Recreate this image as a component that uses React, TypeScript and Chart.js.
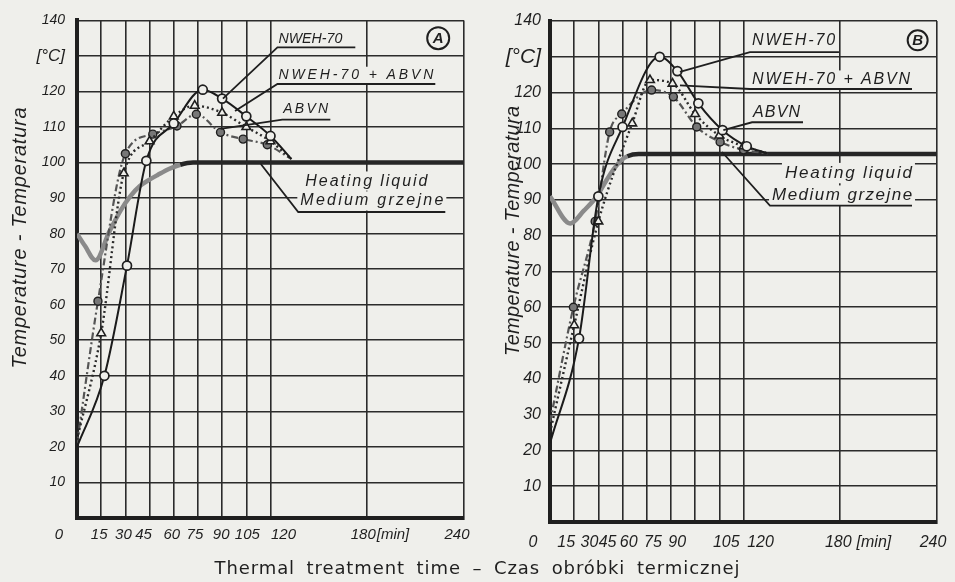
import React, { useEffect, useRef } from 'react';
import { Chart, registerables } from 'chart.js';

Chart.register(...registerables);

const PAPER = '#efefeb';
const INK = '#1f1f1f';
const TICKFONT = "'Liberation Sans', 'DejaVu Sans', sans-serif";
const SANS = "'Liberation Sans', 'DejaVu Sans', sans-serif";

// ---------- axes / texts ----------
const xTickValues = [0, 15, 30, 45, 60, 75, 90, 105, 120, 180, 240];
const xTickLabels = ['0', '15', '30', '45', '60', '75', '90', '105', '120', '180', '240'];
const xUnit = '[min]';
const yTickValues = [0, 10, 20, 30, 40, 50, 60, 70, 80, 90, 100, 110, 120, 130, 140];
const yTickLabels = ['', '10', '20', '30', '40', '50', '60', '70', '80', '90', '100', '110', '120', '[°C]', '140'];
const yTitle = 'Temperature - Temperatura';
const xTitle = 'Thermal treatment time – Czas obróbki termicznej';
const seriesNames = ['NWEH-70', 'NWEH-70 + ABVN', 'ABVN'];
const heatingNames = ['Heating liquid', 'Medium grzejne'];

// ---------- panel A data (time [min], temperature [°C]) ----------
const timeA_NWEH = [0, 17, 31, 43, 60, 78, 90, 105, 120, 133];
const tempA_NWEH = [20, 40, 71, 100.5, 111, 120.5, 118, 113, 107.5, 101];
const timeA_MIX = [0, 15, 29, 45, 60, 73, 90, 105, 120, 133];
const tempA_MIX = [22, 52, 97, 106, 113, 116, 114, 110, 106, 101];
const timeA_ABVN = [0, 13, 30, 47, 62, 74, 89, 103, 118, 133];
const tempA_ABVN = [21, 61, 102.5, 108, 110.3, 113.6, 108.5, 106.6, 105, 101];
const timeA_HEAT = [0, 5, 11.5, 20, 27, 33, 39, 45, 50, 57, 64, 72, 80, 240];
const tempA_HEAT = [80, 76.5, 72.5, 80.5, 86.5, 90.5, 93.4, 95.2, 96.5, 98.2, 99.4, 100, 100, 100];

// ---------- panel B data ----------
const timeB_NWEH = [0, 18, 30, 45, 68, 79, 92, 107, 122, 135];
const tempB_NWEH = [22, 51.3, 91, 110.4, 130, 126, 117, 109.5, 105, 103];
const timeB_MIX = [0, 15, 30, 51, 62, 76, 90, 105, 120, 135];
const tempB_MIX = [25, 55, 84, 111.4, 123.5, 122.5, 114, 108, 105, 103];
const timeB_ABVN = [0, 14.5, 28, 37, 44.5, 63, 76.5, 91, 105.5, 120, 135];
const tempB_ABVN = [28, 60, 84, 109, 114, 120.7, 118.8, 110.4, 106.2, 104, 103];
const timeB_HEAT = [0, 12.5, 21, 29, 35, 39, 44, 48, 55, 240];
const tempB_HEAT = [91, 83.4, 87, 91, 95.5, 98.3, 101, 102.2, 102.8, 102.8];

const pts = (t: number[], T: number[]) => t.map((v, i) => ({ x: v, y: T[i] }));

type Lbl = {
  lines: { text: string; x: number; y: number; w: number; f: number }[];
  ul: { x1: number; x2: number; y: number };
  to: { x: number; y: number };
};

const panels = [
  {
    letter: 'A',
    left: 0,
    width: 477,
    area: { left: 77, right: 464, top: 19, bottom: 518 },
    series: [pts(timeA_NWEH, tempA_NWEH), pts(timeA_MIX, tempA_MIX), pts(timeA_ABVN, tempA_ABVN)],
    heat: pts(timeA_HEAT, tempA_HEAT),
    yFont: 14, cFont: 17, yPad: 12,
    xFont: 15, xDy: 17, xDx: [-18, -2, -2, -6, -2, -3, -1, 1, 13, -4, -7], unitGap: 1,
    labels: [
      { lines: [{ text: seriesNames[0], x: 124.9, y: 134.7, w: 64, f: 14.5 }], ul: { x1: 124.3, x2: 172.6, y: 132.4 }, to: { x: 90.5, y: 118 } },
      { lines: [{ text: seriesNames[1], x: 124.9, y: 124.6, w: 155, f: 14 }], ul: { x1: 124.3, x2: 222.2, y: 122.1 }, to: { x: 98, y: 114.5 } },
      { lines: [{ text: seriesNames[2], x: 127.9, y: 115, w: 45, f: 14 }], ul: { x1: 127.3, x2: 157.1, y: 112.1 }, to: { x: 89, y: 109.5 } },
      {
        lines: [
          { text: heatingNames[0], x: 141.6, y: 94.8, w: 122, f: 16 },
          { text: heatingNames[1], x: 138.5, y: 89.2, w: 143, f: 16 },
        ],
        ul: { x1: 137.2, x2: 228.4, y: 86.1 },
        to: { x: 114, y: 99.6 },
      },
    ] as Lbl[],
    circle: { x: 224, y: 135, r: 11, font: 15 },
    title: { cx: 20, cy: 238, w: 261, font: 20 },
  },
  {
    letter: 'B',
    left: 477,
    width: 478,
    area: { left: 73, right: 460, top: 21, bottom: 522 },
    series: [pts(timeB_NWEH, tempB_NWEH), pts(timeB_MIX, tempB_MIX), pts(timeB_ABVN, tempB_ABVN)],
    heat: pts(timeB_HEAT, tempB_HEAT),
    yFont: 16, cFont: 21, yPad: 9,
    xFont: 16, xDy: 21, xDx: [-17, -8, -9, -15, -18, -18, -18, 7, 17, -2, -4], unitGap: 5,
    labels: [
      { lines: [{ text: seriesNames[0], x: 125.3, y: 134.4, w: 83, f: 16 }], ul: { x1: 124, x2: 179.2, y: 131.3 }, to: { x: 80.6, y: 125.8 } },
      { lines: [{ text: seriesNames[1], x: 125.3, y: 123.5, w: 158, f: 16 }], ul: { x1: 124, x2: 224.5, y: 121 }, to: { x: 80.6, y: 122 } },
      { lines: [{ text: seriesNames[2], x: 125.9, y: 114.4, w: 47, f: 16 }], ul: { x1: 125.3, x2: 156.9, y: 111.7 }, to: { x: 107.5, y: 109.5 } },
      {
        lines: [
          { text: heatingNames[0], x: 145.7, y: 97.5, w: 127, f: 17 },
          { text: heatingNames[1], x: 137.7, y: 91.2, w: 140, f: 17 },
        ],
        ul: { x1: 136.4, x2: 224.5, y: 88.4 },
        to: { x: 106.7, y: 103.4 },
      },
    ] as Lbl[],
    circle: { x: 228, y: 134.6, r: 10, font: 15 },
    title: { cx: 36, cy: 231, w: 250, font: 20 },
  },
];

function spacedText(ctx: CanvasRenderingContext2D, text: string, left: number, y: number, width: number) {
  const c = ctx as any;
  c.letterSpacing = '0px';
  const w0 = ctx.measureText(text).width;
  const ls = text.length > 1 ? (width - w0) / (text.length - 1) : 0;
  ctx.textAlign = 'left';
  if (ls < 0) {
    ctx.save();
    ctx.translate(left, y);
    ctx.scale(width / w0, 1);
    ctx.fillText(text, 0, 0);
    ctx.restore();
    return;
  }
  c.letterSpacing = ls.toFixed(2) + 'px';
  ctx.fillText(text, left, y);
  c.letterSpacing = '0px';
}

function makeDecor(p: any) {
  return {
    id: 'decor' + p.letter,
    afterDraw(chart: any) {
      const { ctx } = chart;
      const xs = chart.scales.x;
      const ys = chart.scales.y;
      const px = (v: number) => xs.getPixelForValue(v);
      const py = (v: number) => ys.getPixelForValue(v);
      const area = chart.chartArea;
      ctx.save();
      ctx.fillStyle = INK;
      ctx.strokeStyle = INK;
      ctx.textBaseline = 'middle';

      // x tick labels
      ctx.font = `italic ${p.xFont}px ${TICKFONT}`;
      xTickValues.forEach((v, i) => {
        const cx = px(v) + p.xDx[i];
        const cy = area.bottom + p.xDy;
        ctx.textAlign = 'center';
        ctx.fillText(xTickLabels[i], cx, cy);
        if (v === 180) {
          const w = ctx.measureText(xTickLabels[i]).width;
          ctx.textAlign = 'left';
          ctx.fillText(xUnit, cx + w / 2 + p.unitGap, cy);
        }
      });

      // y title (rotated)
      ctx.save();
      ctx.translate(p.title.cx, p.title.cy);
      ctx.rotate(-Math.PI / 2);
      ctx.font = `italic ${p.title.font}px ${SANS}`;
      spacedText(ctx, yTitle, -p.title.w / 2, 0, p.title.w);
      ctx.restore();

      // curve labels
      p.labels.forEach((l: Lbl) => {
        l.lines.forEach((ln) => {
          const left = px(ln.x);
          const cy = py(ln.y);
          ctx.font = `italic ${ln.f}px ${SANS}`;
          ctx.fillStyle = PAPER;
          ctx.fillRect(left - 3, cy - ln.f * 0.6, ln.w + 6, ln.f * 1.2);
          ctx.fillStyle = INK;
          spacedText(ctx, ln.text, left, cy, ln.w);
        });
        ctx.lineWidth = 1.8;
        ctx.beginPath();
        ctx.moveTo(px(l.ul.x2), py(l.ul.y));
        ctx.lineTo(px(l.ul.x1), py(l.ul.y));
        ctx.lineTo(px(l.to.x), py(l.to.y));
        ctx.stroke();
      });

      // circled panel letter
      const ccx = px(p.circle.x);
      const ccy = py(p.circle.y);
      ctx.fillStyle = PAPER;
      ctx.beginPath();
      ctx.arc(ccx, ccy, p.circle.r, 0, Math.PI * 2);
      ctx.fill();
      ctx.lineWidth = 2;
      ctx.stroke();
      ctx.fillStyle = INK;
      ctx.font = `italic bold ${p.circle.font}px ${SANS}`;
      ctx.textAlign = 'center';
      ctx.fillText(p.letter, ccx, ccy + 1);
      ctx.restore();
    },
  };
}

function buildChart(canvas: HTMLCanvasElement, p: any) {
  const level = Math.max(...p.heat.map((d: any) => d.y));
  const markerR = (n: number, r: number) => (c: any) => (c.dataIndex === 0 || c.dataIndex === n - 1 ? 0 : r);
  return new Chart(canvas, {
    type: 'line',
    data: {
      datasets: [
        {
          label: seriesNames[0],
          data: p.series[0],
          borderColor: '#1b1b1b',
          borderWidth: 2,
          pointStyle: 'circle',
          pointRadius: markerR(p.series[0].length, 4.5),
          pointBackgroundColor: PAPER,
          pointBorderColor: INK,
          pointBorderWidth: 1.7,
          tension: 0.4,
          cubicInterpolationMode: 'monotone',
        },
        {
          label: seriesNames[1],
          data: p.series[1],
          borderColor: '#2a2a2a',
          borderWidth: 2.4,
          borderDash: [2, 3],
          pointStyle: 'triangle',
          pointRadius: markerR(p.series[1].length, 5),
          pointBackgroundColor: PAPER,
          pointBorderColor: INK,
          pointBorderWidth: 1.6,
          tension: 0.4,
          cubicInterpolationMode: 'monotone',
        },
        {
          label: seriesNames[2],
          data: p.series[2],
          borderColor: '#555555',
          borderWidth: 2.2,
          borderDash: [7, 3, 2, 3],
          pointStyle: 'circle',
          pointRadius: markerR(p.series[2].length, 4),
          pointBackgroundColor: '#777777',
          pointBorderColor: INK,
          pointBorderWidth: 1.4,
          tension: 0.4,
          cubicInterpolationMode: 'monotone',
        },
        {
          label: heatingNames[0],
          data: p.heat,
          borderColor: '#262626',
          borderWidth: 4.5,
          pointRadius: 0,
          tension: 0.4,
          cubicInterpolationMode: 'monotone',
          segment: {
            borderColor: (c: any) =>
              c.p0.parsed.y < level - 0.6 || c.p1.parsed.y < level - 0.6 ? '#8a8a8a' : '#262626',
          },
        },
      ],
    },
    options: {
      animation: false,
      responsive: false,
      maintainAspectRatio: false,
      events: [],
      layout: {
        padding: { left: 0, top: p.area.top, right: p.width - p.area.right, bottom: 0 },
      },
      plugins: { legend: { display: false }, tooltip: { enabled: false } },
      scales: {
        x: {
          type: 'linear',
          min: 0,
          max: 240,
          afterBuildTicks: (s: any) => {
            s.ticks = xTickValues.map((v) => ({ value: v }));
          },
          afterFit: (s: any) => {
            s.height = 582 - p.area.bottom;
          },
          ticks: { display: false },
          grid: { color: '#2b2b2b', lineWidth: 1.6, drawTicks: false },
          border: { display: true, color: INK, width: 4 },
        },
        y: {
          type: 'linear',
          min: 0,
          max: 140,
          afterFit: (s: any) => {
            s.width = p.area.left;
          },
          ticks: {
            stepSize: 10,
            padding: p.yPad,
            color: INK,
            autoSkip: false,
            callback: (v: any) => yTickLabels[yTickValues.indexOf(Number(v))] ?? '',
            font: (c: any) => ({
              family: TICKFONT,
              style: 'italic',
              size: c.tick && c.tick.value === 130 ? p.cFont : p.yFont,
            }),
          },
          grid: { color: '#2b2b2b', lineWidth: 1.6, drawTicks: false },
          border: { display: true, color: INK, width: 4 },
        },
      },
    },
    plugins: [makeDecor(p)],
  } as any);
}

function Panel({ p }: { p: any }) {
  const ref = useRef<HTMLCanvasElement | null>(null);
  useEffect(() => {
    if (!ref.current) return;
    const chart = buildChart(ref.current, p);
    return () => chart.destroy();
  }, [p]);
  return (
    <canvas
      ref={ref}
      width={p.width}
      height={582}
      style={{ position: 'absolute', left: p.left, top: 0, width: p.width, height: 582 }}
    />
  );
}

export default function App() {
  return (
    <div style={{ position: 'absolute', left: 0, top: 0, width: 955, height: 582, background: PAPER, overflow: 'hidden' }}>
      {panels.map((p) => (
        <Panel key={p.letter} p={p} />
      ))}
      <div
        style={{
          position: 'absolute',
          left: 0,
          top: 557,
          width: 955,
          textAlign: 'center',
          font: "18px 'DejaVu Sans', sans-serif",
          letterSpacing: '0.9px',
          wordSpacing: '5px',
          color: INK,
          lineHeight: '22px',
        }}
      >
        {xTitle}
      </div>
    </div>
  );
}
